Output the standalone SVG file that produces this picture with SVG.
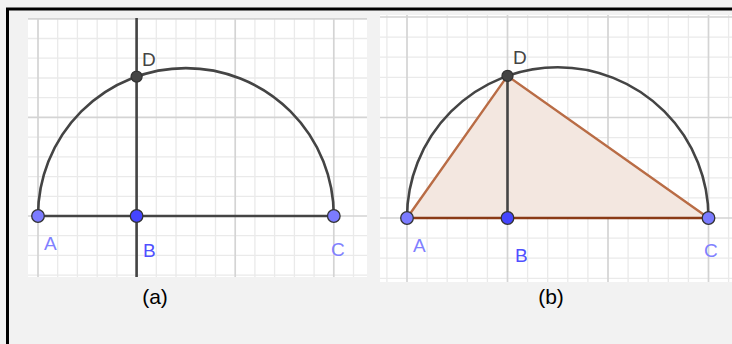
<svg xmlns="http://www.w3.org/2000/svg" width="732" height="344" viewBox="0 0 732 344">
<style>
.minor{stroke:#eaeaea;stroke-width:1.3;fill:none}
.major{stroke:#d4d4d4;stroke-width:1.7;fill:none}
.dark{stroke:#444;stroke-width:2.6;fill:none;stroke-linecap:round}
.pt{stroke:#333;stroke-width:1.3}
.lbl{font-family:"Liberation Sans",Arial,sans-serif;font-size:19px}
.cap{font-family:"Liberation Sans",Arial,sans-serif;font-size:21px;fill:#000;text-anchor:middle}
</style>
<rect x="0" y="0" width="732" height="344" fill="#f2f2f2"/>
<path d="M7.5 344V9H732" fill="none" stroke="#000" stroke-width="3"/>

<g id="panel-a">
<rect x="28" y="18" width="339" height="259" fill="#fff"/>
<path class="minor" d="M57.7 18V277M77.4 18V277M97.2 18V277M116.9 18V277M156.3 18V277M176 18V277M195.8 18V277M215.5 18V277M254.9 18V277M274.6 18V277M294.4 18V277M314.1 18V277M353.5 18V277M28 196.3H367M28 176.6H367M28 156.8H367M28 137.1H367M28 97.7H367M28 78H367M28 58.2H367M28 38.5H367M28 235.7H367M28 255.4H367M28 275.2H367"/>
<path class="major" d="M38 18V277M136.6 18V277M235.2 18V277M333.8 18V277M28 216H367M28 117.4H367M28 18.8H367"/>
</g>

<g id="panel-b">
<rect x="380" y="15" width="352" height="267" fill="#fff"/>
<path class="minor" d="M386.9 15V282M427.1 15V282M447.2 15V282M467.3 15V282M487.4 15V282M527.6 15V282M547.7 15V282M567.8 15V282M587.9 15V282M628.1 15V282M648.2 15V282M668.3 15V282M688.4 15V282M728.6 15V282M380 197.9H732M380 177.8H732M380 157.7H732M380 137.6H732M380 97.4H732M380 77.3H732M380 57.2H732M380 37.1H732M380 238.1H732M380 258.2H732M380 278.3H732"/>
<path class="major" d="M407 15V282M507.5 15V282M608 15V282M708.5 15V282M380 218H732M380 117.5H732M380 17H732"/>
</g>

<g id="connectors">
<path class="dark" d="M38 216A147.9 147.9 0 0 1 333.8 216"/>
<path class="dark" d="M38 216H333.8"/>
<path d="M136.6 18V277" stroke="#444" stroke-width="2.6"/>
<path d="M407 218L507.5 75.9L708.5 218Z" fill="#f3e7e0" stroke="none"/>
<path class="dark" d="M407 218A150.75 150.75 0 0 1 708.5 218"/>
<path class="dark" d="M507.5 218V75.9"/>
<path d="M407 218L507.5 75.9L708.5 218" fill="none" stroke="#b96c45" stroke-width="2.4" stroke-linejoin="round"/>
<path d="M407 218H708.5" stroke="#8a3b17" stroke-width="2.6"/>
</g>

<g id="point-A-a"><circle class="pt" cx="38" cy="216" r="6.3" fill="#7b7bff"/><text class="lbl" x="44" y="250" fill="#8080ff">A</text></g>
<g id="point-B-a"><circle class="pt" cx="136.6" cy="216" r="6.3" fill="#4545ff"/><text class="lbl" x="143" y="257" fill="#5050ff">B</text></g>
<g id="point-C-a"><circle class="pt" cx="333.8" cy="216" r="6.3" fill="#7b7bff"/><text class="lbl" x="331" y="256" fill="#8080ff">C</text></g>
<g id="point-D-a"><circle class="pt" cx="136.6" cy="76.6" r="5.5" fill="#444"/><text class="lbl" x="142" y="66" fill="#444">D</text></g>

<g id="point-A-b"><circle class="pt" cx="407" cy="218" r="6.3" fill="#7b7bff"/><text class="lbl" x="413" y="252" fill="#8080ff">A</text></g>
<g id="point-B-b"><circle class="pt" cx="507.5" cy="218" r="6.3" fill="#4545ff"/><text class="lbl" x="515" y="262" fill="#5050ff">B</text></g>
<g id="point-C-b"><circle class="pt" cx="708.5" cy="218" r="6.3" fill="#7b7bff"/><text class="lbl" x="704" y="257" fill="#8080ff">C</text></g>
<g id="point-D-b"><circle class="pt" cx="507.5" cy="75.9" r="5.5" fill="#444"/><text class="lbl" x="513" y="64" fill="#444">D</text></g>

<text class="cap" x="155" y="304">(a)</text>
<text class="cap" x="551" y="304">(b)</text>
</svg>
